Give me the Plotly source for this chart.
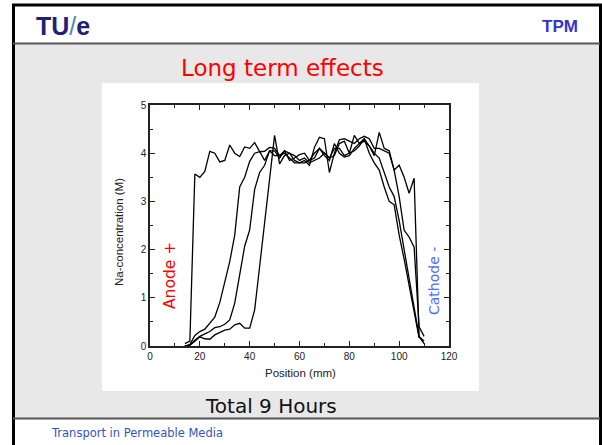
import plotly.graph_objects as go

# ---- data ----
position_mm = [14, 16, 18, 20, 22, 24, 26, 28, 30, 32, 34, 36, 38, 40, 42, 44, 46, 48, 50,
               52, 54, 56, 58, 60, 62, 64, 66, 68, 70, 72, 74, 76, 78, 80, 82, 84, 86, 88,
               90, 92, 94, 96, 98, 100, 102, 104, 106, 108, 110]

conc_1 = [0.05, 0.1, 3.57, 3.5, 3.62, 4.04, 4.0, 3.82, 3.85, 4.17, 4.0, 3.93, 4.13, 4.1, 4.22, 4.05, 3.85, 4.05, 3.95,
          3.95, 4.05, 4.0, 3.85, 3.8, 3.8, 3.85, 4.0, 4.1, 4.0, 3.9, 4.1, 4.1, 3.95, 4.0, 4.05, 4.15, 4.3, 4.15,
          3.95, 4.43, 4.1, 4.05, 3.65, 3.75, 3.5, 3.17, 3.48, 0.19, 0.05]

conc_2 = [0.0, 0.03, 0.22, 0.3, 0.35, 0.47, 0.6, 0.9, 1.3, 1.75, 2.3, 3.3, 3.5, 3.83, 4.0, 4.03, 4.04, 4.12, 4.1,
          3.95, 4.0, 3.9, 3.8, 3.8, 3.85, 3.75, 4.12, 4.33, 4.3, 3.6, 4.0, 4.28, 4.3, 4.25, 4.2, 4.3, 4.35, 4.3,
          4.1, 4.1, 4.05, 4.0, 3.65, 3.1, 2.4, 2.26, 2.05, 0.4, 0.2]

conc_3 = [0.0, 0.02, 0.12, 0.2, 0.25, 0.3, 0.38, 0.4, 0.45, 0.54, 0.89, 1.44, 2.07, 2.41, 3.25, 3.6, 3.75, 4.05, 4.05,
          3.9, 4.05, 3.85, 3.9, 3.97, 4.0, 3.85, 3.9, 4.1, 3.95, 3.85, 4.2, 4.0, 3.92, 3.95, 4.1, 4.2, 4.25, 4.15,
          4.0, 3.9, 3.6, 3.3, 3.1, 2.6, 2.0, 1.4, 0.8, 0.2, 0.1]

conc_4 = [0.0, 0.02, 0.1, 0.19, 0.15, 0.14, 0.23, 0.28, 0.33, 0.35, 0.44, 0.47, 0.37, 0.37, 0.75, 1.65, 2.55, 3.4, 4.37,
          3.78, 3.95, 4.0, 3.95, 3.85, 3.9, 3.8, 3.85, 3.9, 4.0, 3.9, 3.95, 4.2, 4.25, 4.0, 4.37, 4.2, 4.3, 4.0,
          3.8, 3.65, 3.3, 3.0, 2.93, 2.3, 1.8, 1.25, 0.73, 0.17, None]

series = [conc_1, conc_2, conc_3, conc_4]

x_ticks = [0, 20, 40, 60, 80, 100, 120]
y_ticks = [0, 1, 2, 3, 4, 5]

# ---- layout helpers (pixel -> paper) ----
W, H = 602, 445
PL, PR, PT, PB = 150, 449, 105, 346


def px(x):
    return (x - PL) / (PR - PL)


def py(y):
    return (PB - y) / (PB - PT)


fig = go.Figure()
for s in series:
    fig.add_trace(go.Scatter(x=position_mm, y=s, mode="lines",
                             line=dict(color="black", width=1.3),
                             showlegend=False, hoverinfo="skip"))

shapes = []


def rect(x0, y0, x1, y1, fill, line_color=None, lw=0):
    shapes.append(dict(type="rect", xref="paper", yref="paper",
                       x0=px(x0), x1=px(x1), y0=py(y0), y1=py(y1),
                       fillcolor=fill, line=dict(width=lw, color=line_color or fill),
                       layer="below"))


def line(x0, y0, x1, y1, color, lw):
    shapes.append(dict(type="line", xref="paper", yref="paper",
                       x0=px(x0), x1=px(x1), y0=py(y0), y1=py(y1),
                       line=dict(width=lw, color=color), layer="above"))


rect(13, 44, 600, 418, "#e8e8e8")
rect(102, 83, 479, 391, "white")
line(13.5, 5, 13.5, 445, "black", 3)
line(12, 5, 602, 5, "black", 3)
line(600.5, 5, 600.5, 445, "black", 3)
line(13, 43.5, 600, 43.5, "#555555", 2)
line(13, 418.5, 600, 418.5, "#555555", 2)

annotations = []


def text(x, y, t, size, color, family="DejaVu Sans", angle=0, xanchor="center", yanchor="middle"):
    annotations.append(dict(x=px(x), y=py(y), xref="paper", yref="paper", text=t,
                            showarrow=False, textangle=angle, xanchor=xanchor, yanchor=yanchor,
                            borderpad=0,
                            font=dict(size=size, color=color, family=family)))


text(35, 26, "<b>TU</b><span style='color:#4f8a9c'>/</span><b>e</b>", 25, "#1f2272",
     family="Liberation Sans", xanchor="left")
text(579, 26, "<b>TPM</b>", 17, "#3535cc", family="Liberation Sans", xanchor="right")
text(282.5, 68, "Long term effects", 23, "#ff0000")
text(271, 406, "Total 9 Hours", 20, "#111111")
text(50, 433, "Transport in Permeable Media", 11.5, "#3355bb", xanchor="left")
text(170, 276, "Anode +", 15.5, "#ff0000", angle=-90)
text(434, 281, "Cathode -", 14, "#4a6cff", angle=-90)
text(300, 373, "Position (mm)", 11.5, "#222222", family="Liberation Sans")
text(119, 232, "Na-concentration (M)", 11.5, "#222222", family="Liberation Sans", angle=-90)

axis_common = dict(showgrid=False, zeroline=False, showline=True, linecolor="#222222", linewidth=1.5,
                   mirror="ticks", ticks="inside", ticklen=5, tickwidth=1.2, tickcolor="#222222",
                   tickfont=dict(family="Liberation Sans", size=10, color="#222222"))

fig.update_layout(
    width=W, height=H,
    margin=dict(l=PL, r=W - PR, t=PT, b=H - PB, pad=0),
    paper_bgcolor="white", plot_bgcolor="white",
    shapes=shapes, annotations=annotations,
    xaxis=dict(range=[0, 120], tickvals=x_ticks, ticktext=[str(v) for v in x_ticks],
               minor=dict(ticks="inside", dtick=10, ticklen=3, tickcolor="#222222"),
               **axis_common),
    yaxis=dict(range=[0, 5], tickvals=y_ticks, ticktext=[str(v) for v in y_ticks],
               minor=dict(ticks="inside", dtick=0.5, ticklen=3, tickcolor="#222222"),
               **axis_common),
)

fig.write_html("out.html")
